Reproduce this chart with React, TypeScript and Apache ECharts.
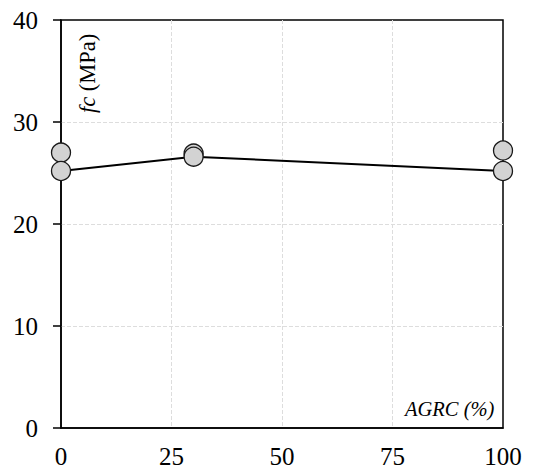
import React, { useEffect, useRef } from "react";
import * as echarts from "echarts";

const xTicks = [0, 25, 50, 75, 100];
const yTicks = [0, 10, 20, 30, 40];
const sampleX = [0, 0, 30, 30, 100, 100];
const sampleFc = [27.0, 25.2, 26.9, 26.6, 27.2, 25.2];
const meanX = [0, 30, 100];
const meanFc = [25.2, 26.6, 25.2];

export default function App() {
  const ref = useRef<HTMLDivElement>(null);
  useEffect(() => {
    document.body.style.margin = "0";
    const chart = echarts.init(ref.current!, null, { renderer: "svg" });
    const font = "Liberation Serif";
    chart.setOption({
      animation: false,
      backgroundColor: "#fff",
      grid: {
        left: 61,
        right: 42,
        top: 20,
        bottom: 42,
        show: true,
        borderColor: "#000",
        borderWidth: 1.5,
      },
      xAxis: {
        type: "value",
        min: xTicks[0],
        max: xTicks[xTicks.length - 1],
        interval: 25,
        axisLine: { show: true, lineStyle: { color: "#000", width: 1.5 } },
        axisTick: { show: false },
        axisLabel: {
          color: "#000",
          fontFamily: font,
          fontSize: 25,
          margin: 16,
        },
        splitLine: {
          show: true,
          showMinLine: false,
          showMaxLine: false,
          lineStyle: { color: "#ddd", type: "dashed", width: 1 },
        },
      },
      yAxis: {
        type: "value",
        min: yTicks[0],
        max: yTicks[yTicks.length - 1],
        interval: 10,
        axisLine: { show: true, lineStyle: { color: "#000", width: 1.5 } },
        axisTick: { show: true, length: 8, inside: false, lineStyle: { color: "#000", width: 1.5 } },
        axisLabel: {
          color: "#000",
          fontFamily: font,
          fontSize: 25,
          margin: 23,
        },
        splitLine: {
          show: true,
          showMinLine: false,
          showMaxLine: false,
          lineStyle: { color: "#ddd", type: "dashed", width: 1 },
        },
      },
      series: [
        {
          type: "line",
          data: meanX.map((x, i) => [x, meanFc[i]]),
          showSymbol: false,
          symbol: "none",
          lineStyle: { color: "#000", width: 2 },
          z: 2,
        },
        {
          type: "scatter",
          data: sampleX.map((x, i) => [x, sampleFc[i]]),
          symbol: "circle",
          symbolSize: 19,
          itemStyle: { color: "#d3d3d3", borderColor: "#1a1a1a", borderWidth: 1.3, opacity: 1 },
          z: 3,
        },
      ],
      graphic: [
        {
          type: "text",
          x: 87,
          y: 113,
          rotation: Math.PI / 2,
          style: {
            text: "{i|fc} (MPa)",
            fill: "#000",
            font: `22.5px ${font}`,
            verticalAlign: "middle",
            align: "left",
            rich: {
              i: { fontStyle: "italic", fontFamily: font, fontSize: 22.5, fill: "#000" },
            },
          },
        },
        {
          type: "text",
          x: 405,
          y: 409,
          style: {
            text: "AGRC (%)",
            fill: "#000",
            font: `italic 20.5px ${font}`,
            verticalAlign: "middle",
            align: "left",
          },
        },
      ],
    });
    return () => chart.dispose();
  }, []);
  return <div ref={ref} style={{ width: 545, height: 470 }} />;
}
